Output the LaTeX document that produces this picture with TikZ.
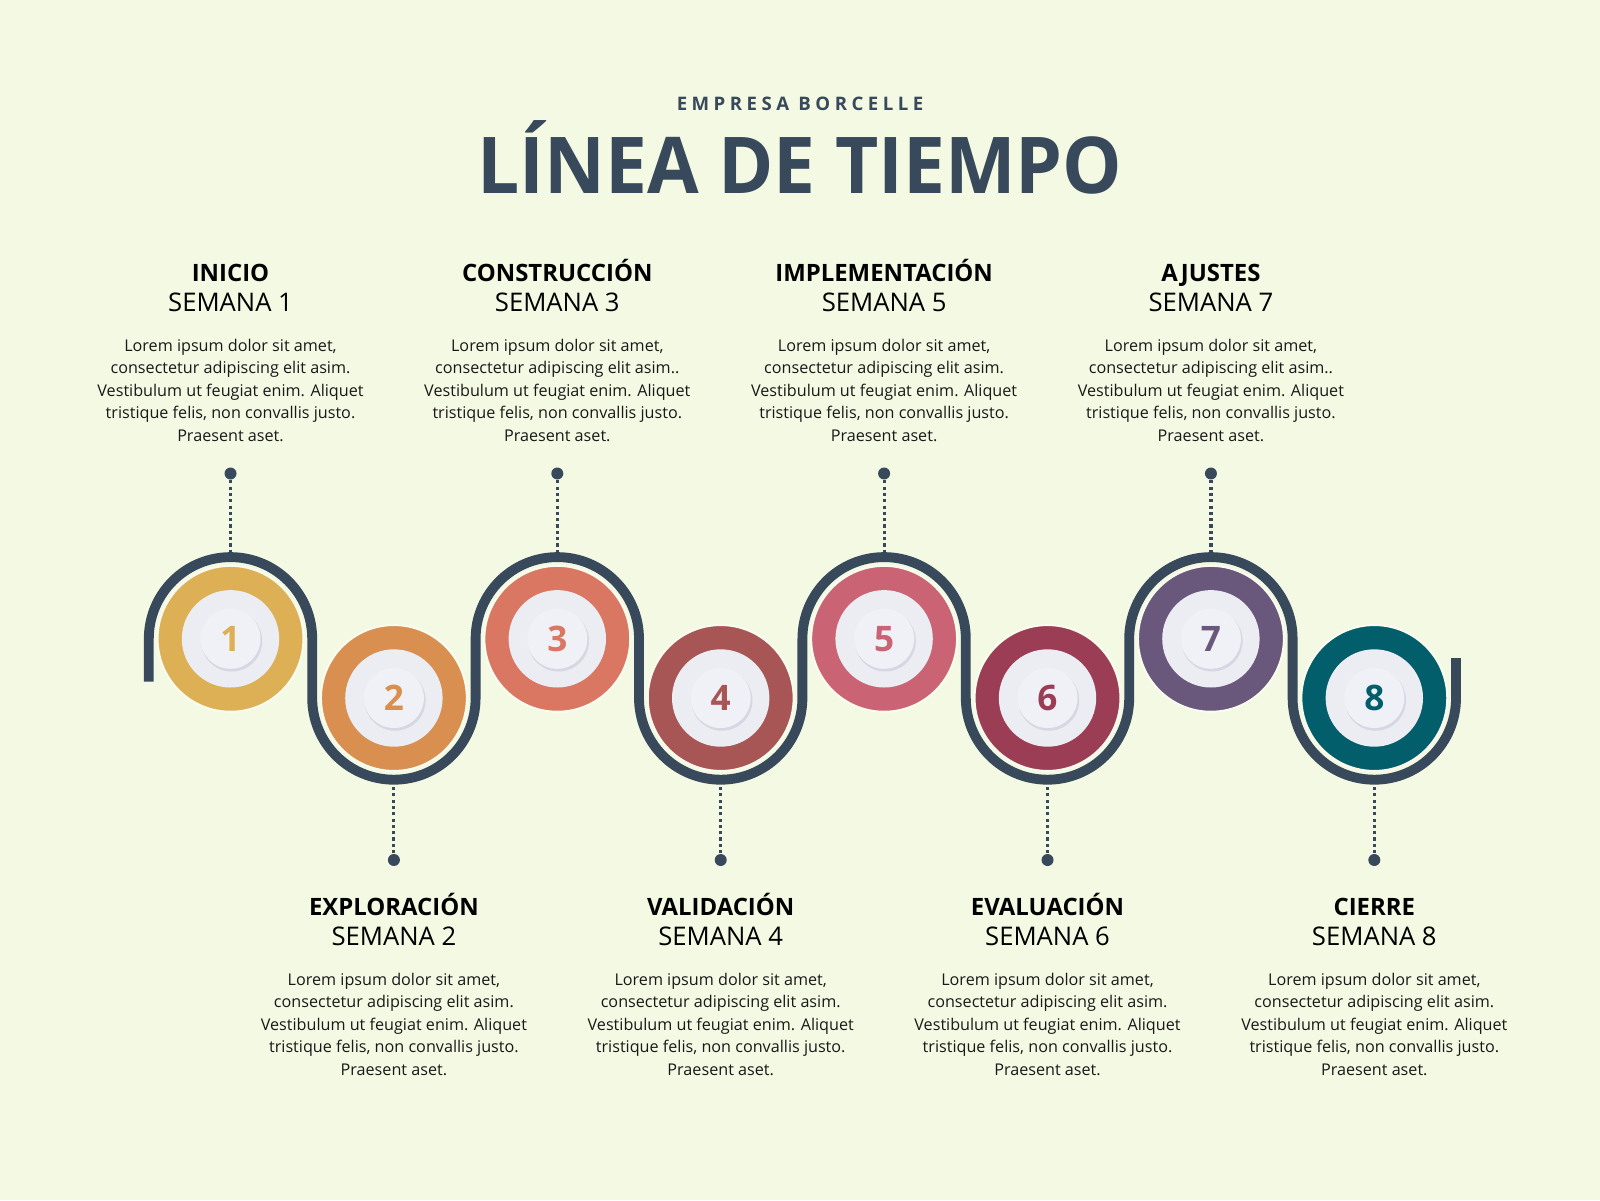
\documentclass[tikz,border=0pt]{standalone}
\usepackage{fontspec}
\setmainfont{Open Sans}
\usetikzlibrary{calc}

\definecolor{fondo}{HTML}{F4F9E3}
\definecolor{pista}{HTML}{37495A}
\definecolor{plato}{HTML}{EBEDF3}
\definecolor{centro}{HTML}{F0F1F6}
\definecolor{sombra}{HTML}{D5D7E2}
\definecolor{hito1}{HTML}{DEB056}
\definecolor{hito2}{HTML}{D98F4F}
\definecolor{hito3}{HTML}{DA7762}
\definecolor{hito4}{HTML}{A85556}
\definecolor{hito5}{HTML}{CA6475}
\definecolor{hito6}{HTML}{9B3E55}
\definecolor{hito7}{HTML}{69587C}
\definecolor{hito8}{HTML}{035E6B}

\newcommand{\lorem}[1]{Lorem ipsum dolor sit amet,\\
  consectetur adipiscing elit asim#1\\
  Vestibulum ut feugiat enim. Aliquet\\
  tristique felis, non convallis justo.\\
  Praesent aset.}

\begin{document}
\begin{tikzpicture}[
    hito/.style = {circle, inner sep = 0pt, minimum size = 1.46cm,
      draw = fondo!60!white, line width = 0.6pt},
    platito/.style = {circle, inner sep = 0pt, fill = plato,
      minimum size = 0.974cm},
    etapa/.style = {anchor = base, inner sep = 0pt,
      font = \bfseries\fontsize{6.8}{8}\selectfont},
    semana/.style = {anchor = base, inner sep = 0pt,
      font = \fontsize{7.3}{9}\selectfont},
    texto/.style = {anchor = base, inner sep = 0pt, align = center,
      text = black!90, font = \fontsize{4.6}{6.37}\selectfont},
    punto/.style = {circle, fill = pista, inner sep = 0pt,
      minimum size = 0.12cm},
    guia/.style = {pista, line width = 0.9pt,
      dash pattern = on 0.9pt off 0.9pt}
  ]

  \fill[fondo] (0, 0) rectangle (16, 12);

  \node[anchor = base, text = pista,
    font = \bfseries\fontsize{5.3}{6}\selectfont\addfontfeature{LetterSpace = 24}]
    (empresa) at (8, 10.89) {EMPRESA BORCELLE};
  \node[anchor = base, text = pista, xscale = 0.955, transform shape,
    font = \bfseries\fontsize{22.3}{26}\selectfont]
    (titulo) at (8, 10.06) {LÍNEA DE TIEMPO};

  % la pista que serpentea entre los hitos
  \draw[pista, line width = 2.8pt] (1.488, 5.184) -- (1.488, 5.612)
    \foreach \k in {1, 2, 3} {
      arc[start angle = 180, end angle = 0, radius = 0.817]
      -- ++(0, -0.592)
      arc[start angle = 180, end angle = 360, radius = 0.817]
      -- ++(0, 0.592)
    }
    arc[start angle = 180, end angle = 0, radius = 0.817]
    -- ++(0, -0.592)
    arc[start angle = 180, end angle = 360, radius = 0.817]
    -- ++(0, 0.40);

  \foreach \nombre/\fin [count = \i] in {INICIO/., EXPLORACIÓN/.,
      CONSTRUCCIÓN/.., VALIDACIÓN/., IMPLEMENTACIÓN/., EVALUACIÓN/.,
      AJUSTES/.., CIERRE/.} {
    \pgfmathsetmacro{\x}{2.305 + 1.634 * (\i - 1)}
    \ifodd\i
      \def\y{5.612} \def\yt{6.479} \def\yp{7.265}
      \def\ye{9.184} \def\ys{8.89} \def\yb{7.59}
    \else
      \def\y{5.02} \def\yt{4.153} \def\yp{3.40}
      \def\ye{2.85} \def\ys{2.55} \def\yb{1.25}
    \fi

    \node[hito, fill = hito\i] (c\i) at (\x, \y) {};
    \node[platito] (p\i) at (c\i) {};
    \fill[sombra] ($(c\i) + (0.012, -0.022)$) circle (0.305);
    \node[circle, inner sep = 0pt, minimum size = 0.6cm, fill = centro,
      text = hito\i, font = \bfseries\fontsize{10}{12}\selectfont]
      (n\i) at (c\i) {\i};

    \node[punto] (d\i) at (\x, \yp) {};
    \coordinate (t\i) at (\x, \yt);
    \draw[guia] (d\i) -- (t\i);

    \node[etapa] (e\i) at (\x, \ye) {\nombre};
    \node[semana] (s\i) at (\x, \ys) {SEMANA \i};
    \node[texto] (b\i) at (\x, \yb) {\lorem{\fin}};
  }

\end{tikzpicture}
\end{document}
